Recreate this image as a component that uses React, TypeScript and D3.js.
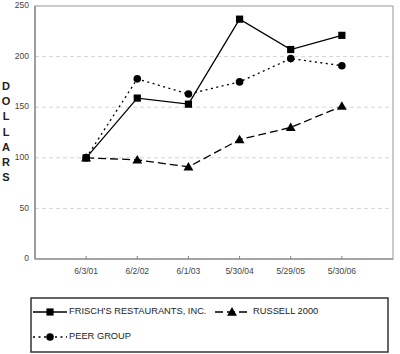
import * as d3 from "d3";
import React from "react";

const dates = ["6/3/01", "6/2/02", "6/1/03", "5/30/04", "5/29/05", "5/30/06"];
const frisch = [100, 159, 153, 237, 207, 221];
const russell = [100, 98, 91, 118, 130, 151];
const peer = [100, 178, 163, 175, 198, 191];
const yTicks = [0, 50, 100, 150, 200, 250];
const axisLetters = ["D", "O", "L", "L", "A", "R", "S"];

const W = 400;
const H = 354;
const m = { left: 35, right: 393, top: 6, bottom: 259 };

function Marker({ kind, x, y }: { kind: string; x: number; y: number }) {
  if (kind === "square")
    return <rect x={x - 3.6} y={y - 3.6} width={7.2} height={7.2} fill="#000" />;
  if (kind === "triangle") {
    const tri = d3.symbol(d3.symbolTriangle, 42)();
    return <path d={tri ?? undefined} transform={`translate(${x},${y + 0.8})`} fill="#000" />;
  }
  return <circle cx={x} cy={y} r={3.8} fill="#000" />;
}

export default function App() {
  const x = d3.scalePoint<string>().domain(dates).range([m.left, m.right]).padding(1);
  const y = d3.scaleLinear().domain([0, 250]).range([m.bottom, m.top]);

  const line = d3
    .line<number>()
    .x((_, i) => x(dates[i])!)
    .y((d) => y(d));

  const series = [
    { name: "FRISCH'S RESTAURANTS, INC.", values: frisch, dash: undefined, kind: "square" },
    { name: "RUSSELL 2000", values: russell, dash: "8 4", kind: "triangle" },
    { name: "PEER GROUP", values: peer, dash: "2 3.5", kind: "circle" },
  ];

  const font = "Arial, 'Liberation Sans', sans-serif";

  return (
    <div style={{ position: "absolute", left: 0, top: 0 }}>
      <svg width={W} height={H} style={{ display: "block", background: "#fff" }} fontFamily={font}>
        {/* grid */}
        {yTicks
          .filter((t) => t > 0 && t < 250)
          .map((t) => (
            <line key={t} x1={m.left} x2={m.right} y1={y(t)} y2={y(t)} stroke="#d4d4d4" strokeDasharray="4 3" />
          ))}
        {/* frame */}
        <rect
          x={m.left}
          y={m.top}
          width={m.right - m.left}
          height={m.bottom - m.top}
          fill="none"
          stroke="#a8a8a8"
          strokeWidth={1.2}
        />
        <line x1={m.left} x2={m.left} y1={m.top} y2={m.bottom} stroke="#808080" strokeWidth={1.2} />
        <line x1={m.left} x2={m.right} y1={m.bottom} y2={m.bottom} stroke="#808080" strokeWidth={1.2} />

        {/* y labels */}
        {yTicks.map((t) => (
          <text key={t} x={m.left - 6} y={y(t)} textAnchor="end" dominantBaseline="middle" fontSize={8.5} fill="#444">
            {t}
          </text>
        ))}
        {/* x ticks + labels */}
        {dates.map((d) => (
          <g key={d}>
            <line x1={x(d)} x2={x(d)} y1={m.bottom} y2={m.bottom - 3} stroke="#808080" />
            <text x={x(d)} y={m.bottom + 13} textAnchor="middle" dominantBaseline="middle" fontSize={8.5} fill="#444">
              {d}
            </text>
          </g>
        ))}
        {/* axis title */}
        {axisLetters.map((c, i) => (
          <text key={i} x={6} y={87 + i * 15.2} textAnchor="middle" dominantBaseline="middle" fontSize={11} fontWeight="bold" fill="#222">
            {c}
          </text>
        ))}

        {/* series */}
        {series.map((s) => (
          <g key={s.name}>
            <path d={line(s.values) ?? undefined} fill="none" stroke="#000" strokeWidth={1.3} strokeDasharray={s.dash} />
            {s.values.map((v, i) => (
              <Marker key={i} kind={s.kind} x={x(dates[i])!} y={y(v)} />
            ))}
          </g>
        ))}

        {/* legend */}
        <rect x={31} y={298} width={357} height={54} fill="none" stroke="#333" strokeWidth={1.5} />
        {[
          { s: series[0], lx: 33, ly: 312 },
          { s: series[1], lx: 215, ly: 312 },
          { s: series[2], lx: 33, ly: 337 },
        ].map(({ s, lx, ly }) => (
          <g key={s.name}>
            <line x1={lx} x2={lx + 34} y1={ly} y2={ly} stroke="#000" strokeWidth={1.3} strokeDasharray={s.dash} />
            <Marker kind={s.kind} x={lx + 17} y={ly} />
            <text x={lx + (s.kind === "triangle" ? 38 : 36)} y={ly} dominantBaseline="middle" fontSize={9.3} fill="#222">
              {s.name}
            </text>
          </g>
        ))}
      </svg>
    </div>
  );
}
